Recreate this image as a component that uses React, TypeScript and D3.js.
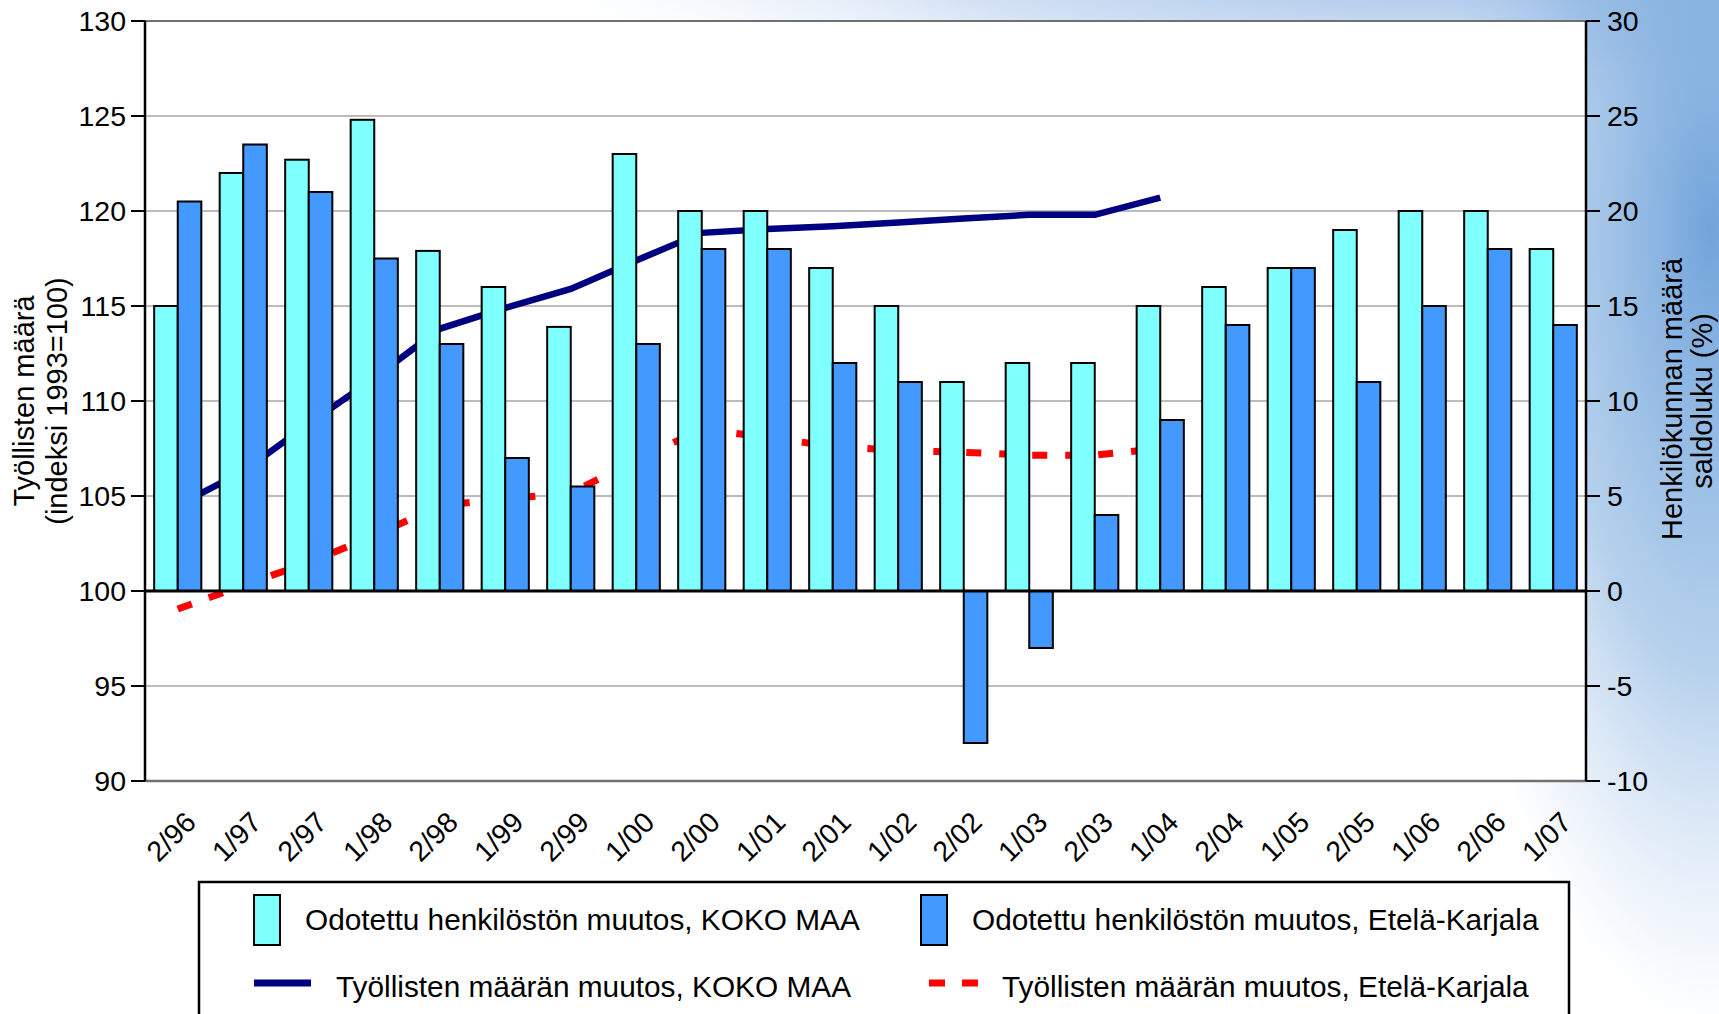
import React from 'react';
import * as d3 from 'd3';

// kvartaalit / vuosipuoliskot
const categories = ['2/96', '1/97', '2/97', '1/98', '2/98', '1/99', '2/99', '1/00', '2/00', '1/01', '2/01',
  '1/02', '2/02', '1/03', '2/03', '1/04', '2/04', '1/05', '2/05', '1/06', '2/06', '1/07'];

// saldoluvut (oikea akseli)
const odotettuKokoMaa = [15, 22, 22.7, 24.8, 17.9, 16, 13.9, 23, 20, 20, 17, 15, 11, 12, 12, 15, 16, 17, 19, 20, 20, 18];
const odotettuEtelaKarjala = [20.5, 23.5, 21, 17.5, 13, 7, 5.5, 13, 18, 18, 12, 11, -8, -3, 4, 9, 14, 17, 11, 15, 18, 14];

// indeksi 1993=100 (vasen akseli), 2/96 ... 1/04
const tyollisetKokoMaa = [104.5, 106.3, 108.8, 111.2, 113.8, 114.9, 115.9, 117.4, 118.85, 119.05, 119.2, 119.4, 119.6, 119.8, 119.8, 120.7];
const tyollisetEtelaKarjala = [99.05, 100.3, 101.5, 102.9, 104.5, 104.85, 105.15, 106.9, 108.5, 108.1, 107.6, 107.4, 107.3, 107.15, 107.15, 107.5];

const leftTicks = [90, 95, 100, 105, 110, 115, 120, 125, 130];
const rightTicks = [-10, -5, 0, 5, 10, 15, 20, 25, 30];

const legendItems = [
  { label: 'Odotettu henkilöstön muutos, KOKO MAA', kind: 'bar', color: '#80ffff' },
  { label: 'Odotettu henkilöstön muutos, Etelä-Karjala', kind: 'bar', color: '#4499ff' },
  { label: 'Työllisten määrän muutos, KOKO MAA', kind: 'line', color: '#000080' },
  { label: 'Työllisten määrän muutos, Etelä-Karjala', kind: 'dash', color: '#ff0000' },
];

const W = 1719;
const H = 1014;
const plot = { left: 145, right: 1586, top: 21, bottom: 781 };
const FONT = '"Liberation Sans", Arial, sans-serif';

export default function App() {
  const x = d3.scaleBand<string>().domain(categories).range([plot.left, plot.right]);
  const yL = d3.scaleLinear().domain([90, 130]).range([plot.bottom, plot.top]);
  const yR = d3.scaleLinear().domain([-10, 30]).range([plot.bottom, plot.top]);
  const cx = (c: string) => (x(c) as number) + x.bandwidth() / 2;
  const barW = x.bandwidth() * 0.36;

  const line = d3.line<number>()
    .x((_, i) => cx(categories[i]))
    .y(d => yL(d));

  return (
    <svg width={W} height={H} style={{ position: 'absolute', left: 0, top: 0 }} fontFamily={FONT}>
      <defs>
        <radialGradient id="bgA">
          <stop offset="0" stopColor="#6a9fd9" stopOpacity={0.95} />
          <stop offset="0.55" stopColor="#86b2e0" stopOpacity={0.6} />
          <stop offset="1" stopColor="#b0cbec" stopOpacity={0} />
        </radialGradient>
        <radialGradient id="bgB">
          <stop offset="0" stopColor="#7aa9dd" stopOpacity={0.9} />
          <stop offset="0.6" stopColor="#a9c5ea" stopOpacity={0.5} />
          <stop offset="1" stopColor="#dfe9f6" stopOpacity={0} />
        </radialGradient>
      </defs>
      <rect width={W} height={H} fill="#ffffff" />
      <ellipse cx={1450} cy={-60} rx={950} ry={190} fill="url(#bgB)" />
      <ellipse cx={1710} cy={230} rx={280} ry={800} fill="url(#bgA)" />

      {/* piirtoalue */}
      <rect x={plot.left} y={plot.top} width={plot.right - plot.left} height={plot.bottom - plot.top} fill="#ffffff" />
      {leftTicks.filter(t => t !== 90 && t !== 100 && t !== 130).map(t => (
        <line key={t} x1={plot.left} x2={plot.right} y1={yL(t)} y2={yL(t)} stroke="#a6a6a6" strokeWidth={1.5} />
      ))}
      <line x1={plot.left} x2={plot.right} y1={plot.top} y2={plot.top} stroke="#707070" strokeWidth={2} />
      <line x1={plot.left} x2={plot.right} y1={plot.bottom} y2={plot.bottom} stroke="#707070" strokeWidth={2.5} />

      {/* viivat palkkien takana */}
      <path d={line(tyollisetKokoMaa) as string} fill="none" stroke="#000080" strokeWidth={6.5} />
      <path d={line(tyollisetEtelaKarjala) as string} fill="none" stroke="#ff0000" strokeWidth={7} strokeDasharray="15,18" />

      {categories.map((c, i) => {
        const c0 = cx(c);
        const a = odotettuKokoMaa[i];
        const b = odotettuEtelaKarjala[i];
        return (
          <g key={c} stroke="#000000" strokeWidth={2}>
            <rect x={c0 - barW} y={yR(Math.max(0, a))} width={barW} height={Math.abs(yR(a) - yR(0))} fill="#80ffff" />
            <rect x={c0} y={yR(Math.max(0, b))} width={barW} height={Math.abs(yR(b) - yR(0))} fill="#4499ff" />
          </g>
        );
      })}
      <line x1={plot.left} x2={plot.right} y1={yR(0)} y2={yR(0)} stroke="#000000" strokeWidth={3} />

      {/* akselit */}
      <line x1={plot.left} x2={plot.left} y1={plot.top} y2={plot.bottom} stroke="#000000" strokeWidth={2.5} />
      <line x1={plot.right} x2={plot.right} y1={plot.top} y2={plot.bottom} stroke="#000000" strokeWidth={2.5} />
      {leftTicks.map(t => (
        <g key={t}>
          <line x1={plot.left - 14} x2={plot.left} y1={yL(t)} y2={yL(t)} stroke="#000000" strokeWidth={2} />
          <text x={plot.left - 19} y={yL(t)} dy="0.36em" textAnchor="end" fontSize={28.5}>{t}</text>
        </g>
      ))}
      {rightTicks.map(t => (
        <g key={t}>
          <line x1={plot.right} x2={plot.right + 14} y1={yR(t)} y2={yR(t)} stroke="#000000" strokeWidth={2} />
          <text x={plot.right + 21} y={yR(t)} dy="0.36em" textAnchor="start" fontSize={28.5}>{t}</text>
        </g>
      ))}
      {categories.map(c => (
        <text key={c} transform={`translate(${cx(c) + 20},${plot.bottom + 43}) rotate(-45)`} textAnchor="end" fontSize={28.5}>{c}</text>
      ))}

      <text transform={`translate(34,${(plot.top + plot.bottom) / 2}) rotate(-90)`} textAnchor="middle" fontSize={29}>Työllisten määrä</text>
      <text transform={`translate(67,${(plot.top + plot.bottom) / 2}) rotate(-90)`} textAnchor="middle" fontSize={29}>(indeksi 1993=100)</text>
      <text transform={`translate(1682,${(plot.top + plot.bottom) / 2 - 2}) rotate(-90)`} textAnchor="middle" fontSize={29}>Henkilökunnan määrä</text>
      <text transform={`translate(1712,${(plot.top + plot.bottom) / 2}) rotate(-90)`} textAnchor="middle" fontSize={29}>saldoluku (%)</text>

      {/* selite */}
      <rect x={199} y={882} width={1370} height={160} fill="#ffffff" stroke="#000000" strokeWidth={2.5} />
      {legendItems.map((it, i) => {
        const col = i % 2;
        const row = Math.floor(i / 2);
        const sx = col === 0 ? 254 : 921;
        const rowY = row === 0 ? 920 : 985;
        if (it.kind === 'bar') {
          return (
            <g key={it.label}>
              <rect x={sx} y={rowY - 25} width={26} height={50} fill={it.color} stroke="#000000" strokeWidth={2} />
              <text x={sx + 51} y={rowY + 10} fontSize={29.8}>{it.label}</text>
            </g>
          );
        }
        return (
          <g key={it.label}>
            <line x1={sx + (col ? 8 : 0)} x2={sx + 57} y1={rowY - 2} y2={rowY - 2} stroke={it.color}
              strokeWidth={7} strokeDasharray={it.kind === 'dash' ? '16,17' : undefined} />
            <text x={col ? 1002 : 336} y={rowY + 12} fontSize={29.8}>{it.label}</text>
          </g>
        );
      })}
    </svg>
  );
}
